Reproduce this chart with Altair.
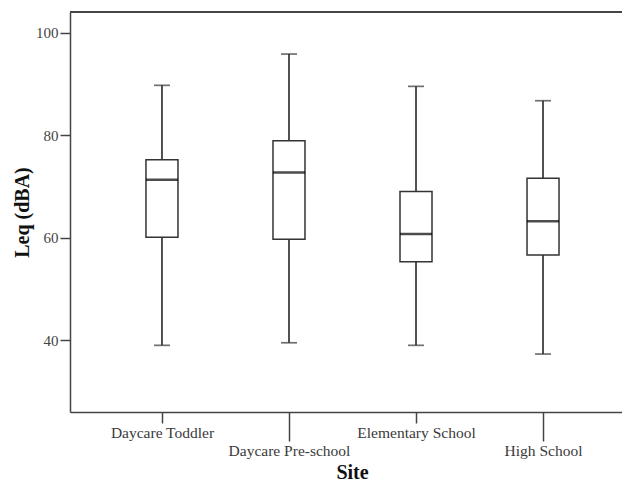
import altair as alt
import pandas as pd

sites = ["Daycare Toddler", "Daycare Pre-school", "Elementary School", "High School"]
lower = [39.0, 39.5, 39.0, 37.3]
q1 = [60.1, 59.7, 55.3, 56.6]
median = [71.3, 72.7, 60.7, 63.2]
q3 = [75.2, 78.9, 69.0, 71.6]
upper = [89.7, 95.8, 89.5, 86.7]
y_ticks = [40, 60, 80, 100]

df = pd.DataFrame({"site": sites, "lower": lower, "q1": q1, "median": median,
                   "q3": q3, "upper": upper})

W, H = 552, 400
FONT = "Liberation Serif"
LINE = "#333333"

long_test = "indexof(['Daycare Pre-school', 'High School'], datum.value) >= 0"

x_enc = alt.X(
    "site:N",
    sort=sites,
    scale=alt.Scale(type="point", padding=0.673, align=0.538),
    axis=alt.Axis(
        title="Site",
        labelAngle=0,
        labelFont=FONT,
        labelFontSize=15.5,
        labelColor="#3a3a3a",
        tickColor="#444444",
        tickWidth=1.5,
        tickSize={"condition": {"test": long_test, "value": 29}, "value": 11},
        labelPadding=2,
        domainColor="#444444",
        domainWidth=1.5,
        titleFont=FONT,
        titleFontSize=20,
        titleFontWeight="bold",
        titleColor="#111111",
        titleX=282,
        titleY=60,
        titleAlign="center",
        titleBaseline="middle",
        grid=False,
    ),
)

y_scale = alt.Scale(domain=[26, 104], nice=False, zero=False)
y_axis = alt.Axis(
    title="Leq (dBA)",
    values=y_ticks,
    labelFont=FONT,
    labelFontSize=15,
    labelColor="#444444",
    labelPadding=2,
    tickSize=10,
    tickColor="#444444",
    tickWidth=1.5,
    domainColor="#444444",
    domainWidth=1.5,
    titleFont=FONT,
    titleFontSize=20,
    titleFontWeight="bold",
    titleColor="#111111",
    titleAngle=-90,
    titleX=-48,
    titleY=200,
    titleAlign="center",
    titleBaseline="middle",
    grid=False,
)

base = alt.Chart(df)

whisker = base.mark_rule(color=LINE, strokeWidth=1.7).encode(
    x=x_enc,
    y=alt.Y("lower:Q", scale=y_scale, axis=y_axis),
    y2="upper:Q",
)

box = base.mark_bar(size=32, fill="white", stroke=LINE, strokeWidth=1.5).encode(
    x=alt.X("site:N", sort=sites),
    y=alt.Y("q1:Q"),
    y2="q3:Q",
)

med = base.mark_tick(size=32, thickness=2.5, color="#000000").encode(
    x=alt.X("site:N", sort=sites),
    y=alt.Y("median:Q"),
)

cap_lo = base.mark_tick(size=16, thickness=1.7, color=LINE).encode(
    x=alt.X("site:N", sort=sites),
    y=alt.Y("lower:Q"),
)
cap_hi = base.mark_tick(size=16, thickness=1.7, color=LINE).encode(
    x=alt.X("site:N", sort=sites),
    y=alt.Y("upper:Q"),
)

top = alt.Chart(df).mark_rule(color="#444444", strokeWidth=1.5).encode(
    x=alt.value(0), x2=alt.value(W), y=alt.value(0)
)

chart = alt.layer(whisker, box, med, cap_lo, cap_hi, top).properties(
    width=W,
    height=H,
    padding={"left": 62, "top": 4, "right": 0, "bottom": 72},
    autosize=alt.AutoSizeParams(type="none"),
    background="white",
).configure_view(stroke="transparent").configure_axis(
    labelFont=FONT, titleFont=FONT
).configure_text(font=FONT)

chart.save("out.html", embed_options={"renderer": "svg", "actions": False})
